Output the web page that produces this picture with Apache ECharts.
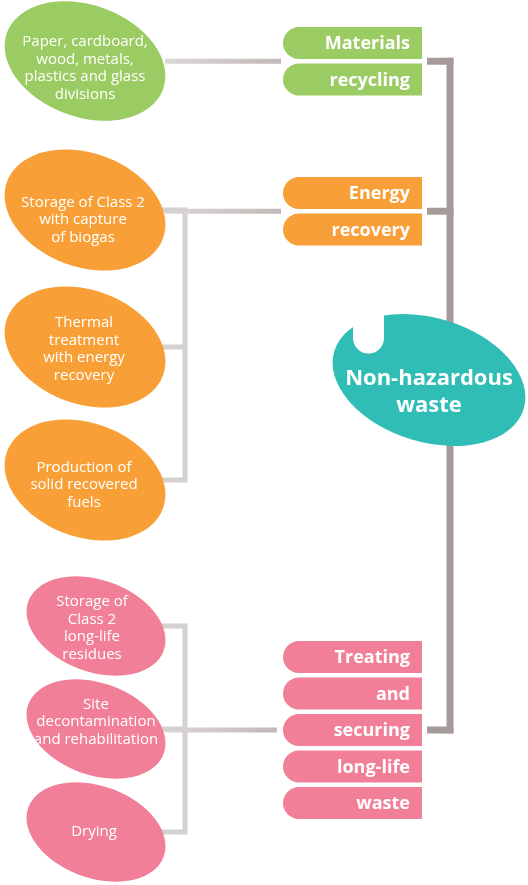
<!DOCTYPE html>
<html>
<head>
<meta charset="utf-8">
<title>Non-hazardous waste</title>
<script src="https://cdn.jsdelivr.net/npm/echarts@6.0.0/dist/echarts.min.js"></script>
<style>
html, body { margin: 0; padding: 0; background: #fff; }
#main { width: 528px; height: 885px; }
</style>
</head>
<body>
<div id="main"></div>
<script>
// ---- data ----
var hubLabel = 'Non-hazardous\nwaste';
var routeWords = [
    ['Materials', 'recycling'],
    ['Energy', 'recovery'],
    ['Treating', 'and', 'securing', 'long-life', 'waste']
];
var methods = [
    'Paper, cardboard,\nwood, metals,\nplastics and glass\ndivisions',
    'Storage of Class 2\nwith capture\nof biogas',
    'Thermal\ntreatment\nwith energy\nrecovery',
    'Production of\nsolid recovered\nfuels',
    'Storage of\nClass 2\nlong-life\nresidues',
    'Site\ndecontamination\nand rehabilitation',
    'Drying'
];
var methodRoute = [0, 1, 1, 1, 2, 2, 2];

// ---- layout (axis units, 1 unit = 1px) ----
var routeTop = [27, 177, 641];
var methodX = [85, 85, 85, 85, 96, 96, 96];
var methodY = [61, 210, 347, 480, 626, 729, 832];
var textDx = [0, -2, -1, -1, -4, 0, -2];
var textDy = [7, 10, 2, 5, 2, -7, 0];
var hubPos = [429, 380];

var PILL_X = 283, PILL_W = 139, PILL_H = 32, PILL_STEP = 36.5;
var ELL_RIGHT = 165, BUS_X = 185, TRUNK_X = 450, TRUNK_STUB = 427;
var ELL_A = [83, 83, 72], ELL_B = [56, 57, 46];
var TILT = 20 * Math.PI / 180;
var colors = ['#9bcb63', '#f8a037', '#f27f98'];
var HUB_COLOR = '#2fbdb5';
var FONT = '"Open Sans", "DejaVu Sans", sans-serif';

var linkY = routeTop.map(function (t, r) {
    return t + (routeWords[r].length * PILL_STEP - (PILL_STEP - PILL_H)) / 2;
});

// connector segments: [x1, y1, x2, y2, kind]  kind 0 light, 1 light gradient, 2 trunk
var segments = [];
routeWords.forEach(function (w, r) {
    var ms = [];
    methodRoute.forEach(function (mr, i) { if (mr === r) ms.push(i); });
    var ly = linkY[r];
    segments.push([ELL_RIGHT, ly, PILL_X - (ms.length > 1 && r === 2 ? 6 : 2), ly, 1]);
    if (ms.length > 1) {
        var ys = ms.map(function (i) { return methodY[i]; }).concat([ly]);
        var lo = Math.min.apply(null, ys), hi = Math.max.apply(null, ys);
        segments.push([BUS_X, lo - 2.5, BUS_X, hi + 2.5, 0]);
        ms.forEach(function (i) {
            segments.push([ELL_RIGHT - 20, methodY[i], BUS_X, methodY[i], 0]);
        });
    }
    segments.push([TRUNK_STUB, ly, TRUNK_X + 3.5, ly, 2]);
});
segments.push([TRUNK_X, linkY[0] - 3.5, TRUNK_X, linkY[2] + 3.5, 2]);

var pills = [];
routeWords.forEach(function (w, r) {
    w.forEach(function (word, k) {
        pills.push([PILL_X, routeTop[r] + k * PILL_STEP, r, k]);
    });
});

var lightGrad = new echarts.graphic.LinearGradient(0, 0, 1, 0, [
    { offset: 0, color: '#dcd8d7' },
    { offset: 1, color: '#c1b8b6' }
]);

function renderLink(params, api) {
    var p1 = api.coord([api.value(0), api.value(1)]);
    var p2 = api.coord([api.value(2), api.value(3)]);
    var kind = api.value(4);
    return {
        type: 'line',
        shape: { x1: p1[0], y1: p1[1], x2: p2[0], y2: p2[1] },
        style: {
            stroke: kind === 2 ? '#a59c9a' : (kind === 1 ? lightGrad : '#d5d1d0'),
            lineWidth: kind === 2 ? 7 : 5,
            lineCap: 'butt'
        }
    };
}

function renderMethod(params, api) {
    var i = params.dataIndex;
    var r = methodRoute[i];
    var c = api.coord([api.value(0), api.value(1)]);
    var s = api.size([ELL_A[r], ELL_B[r]]);
    var a = Math.abs(s[0]), b = Math.abs(s[1]);
    return {
        type: 'group',
        children: [{
            type: 'circle',
            x: c[0], y: c[1],
            rotation: -TILT,
            scaleX: a / b,
            shape: { cx: 0, cy: 0, r: b },
            style: { fill: colors[r] }
        }, {
            type: 'text',
            x: c[0] + textDx[i], y: c[1] + textDy[i],
            style: {
                text: methods[i],
                fill: '#fff',
                font: '15px ' + FONT,
                align: 'center',
                verticalAlign: 'middle',
                lineHeight: 17.5
            }
        }]
    };
}

function renderPill(params, api) {
    var p = api.coord([api.value(0), api.value(1)]);
    var s = api.size([PILL_W, PILL_H]);
    var w = Math.abs(s[0]), h = Math.abs(s[1]);
    var r = api.value(2), k = api.value(3);
    return {
        type: 'group',
        children: [{
            type: 'rect',
            shape: { x: p[0], y: p[1], width: w, height: h, r: [h / 2, 0, 0, h / 2] },
            style: { fill: colors[r] }
        }, {
            type: 'text',
            x: p[0] + w - 12, y: p[1] + h / 2 + 1,
            style: {
                text: routeWords[r][k],
                fill: '#fff',
                font: 'bold 18px ' + FONT,
                align: 'right',
                verticalAlign: 'middle'
            }
        }]
    };
}

function renderHub(params, api) {
    var c = api.coord([api.value(0), api.value(1)]);
    return {
        type: 'group',
        children: [{
            type: 'circle',
            x: c[0], y: c[1],
            rotation: -17 * Math.PI / 180,
            scaleX: 99 / 62,
            shape: { cx: 0, cy: 0, r: 62 },
            style: { fill: HUB_COLOR }
        }, {
            type: 'rect',
            shape: { x: c[0] - 76, y: c[1] - 85, width: 31, height: 43 },
            style: { fill: '#fff' }
        }, {
            type: 'circle',
            shape: { cx: c[0] - 60.5, cy: c[1] - 42, r: 15.5 },
            style: { fill: '#fff' }
        }, {
            type: 'text',
            x: c[0], y: c[1] + 12,
            style: {
                text: hubLabel,
                fill: '#fff',
                font: 'bold 22px ' + FONT,
                align: 'center',
                verticalAlign: 'middle',
                lineHeight: 27
            }
        }]
    };
}

var myChart = echarts.init(document.getElementById('main'));
myChart.setOption({
    animation: false,
    grid: { left: 0, right: 0, top: 0, bottom: 0 },
    xAxis: { type: 'value', min: 0, max: 528, show: false },
    yAxis: { type: 'value', min: 0, max: 885, inverse: true, show: false },
    series: [
        {
            type: 'custom', name: 'links', z: 1, clip: false,
            renderItem: renderLink,
            encode: { x: [0, 2], y: [1, 3] },
            data: segments
        },
        {
            type: 'custom', name: 'methods', z: 2, clip: false,
            renderItem: renderMethod,
            data: methods.map(function (m, i) { return [methodX[i], methodY[i]]; })
        },
        {
            type: 'custom', name: 'routes', z: 2, clip: false,
            renderItem: renderPill,
            encode: { x: 0, y: 1 },
            data: pills
        },
        {
            type: 'custom', name: 'hub', z: 3, clip: false,
            renderItem: renderHub,
            data: [hubPos]
        }
    ]
});
</script>
</body>
</html>
